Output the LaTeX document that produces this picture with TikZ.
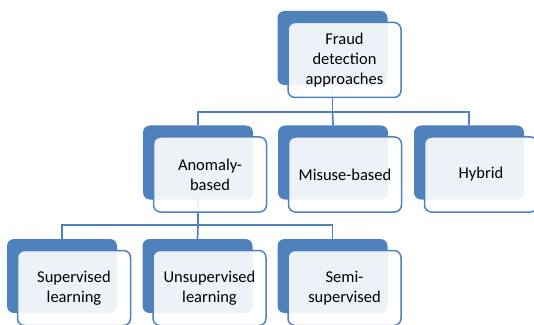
\documentclass[tikz,border=0pt]{standalone}
\usepackage{fontspec}
\setmainfont{Carlito}
\usepackage{tikz}
\usepackage{xcolor}
\usetikzlibrary{positioning}

\definecolor{officeblue}{HTML}{4F81BD}

\begin{document}
\begin{tikzpicture}[x=1pt, y=1pt]
\tikzstyle{back} = [rectangle, fill=officeblue, rounded corners=7pt, minimum width=110pt, minimum height=74pt, inner sep=0pt]
\tikzstyle{front} = [rectangle, draw=officeblue, line width=1.5pt, fill=white, fill opacity=0.9, text opacity=1, rounded corners=7pt, minimum width=113pt, minimum height=75pt, inner sep=0pt, align=center, font=\fontsize{16.5}{20}\selectfont, shift={(12pt,-12pt)}]
\tikzstyle{line} = [draw=officeblue, line width=1.7pt]

\useasboundingbox (0,0) rectangle (534,324);

% back blocks
\node [back] (fraudB) at (332.5,276) {};
\node [back] (anomB) at (198,161.5) {};
\node [back] (misuseB) at (333,161.5) {};
\node [back] (hybridB) at (469,161.5) {};
\node [back] (supB) at (62,48) {};
\node [back] (unsupB) at (197.5,48) {};
\node [back] (semiB) at (332.5,48) {};

% connectors
\coordinate (busA) at (332.5,212);
\coordinate (busB) at (198,99);
\draw [line] (fraudB.south) -- (busA);
\draw [line] (anomB.north) |- (busA) -| (hybridB.north);
\draw [line] (busA) -- (misuseB.north);
\draw [line] (anomB.south) -- (busB);
\draw [line] (supB.north) |- (busB) -| (semiB.north);
\draw [line] (busB) -- (unsupB.north);

% front boxes
\node [front] (fraud) at (fraudB) {Fraud\\detection\\approaches};
\node [front] (anom) at (anomB) {Anomaly-\\based};
\node [front] (misuse) at (misuseB) {Misuse-based};
\node [front] (hybrid) at (hybridB) {Hybrid};
\node [front] (sup) at (supB) {Supervised\\learning};
\node [front] (unsup) at (unsupB) {Unsupervised\\learning};
\node [front] (semi) at (semiB) {Semi-\\supervised};

\end{tikzpicture}
\end{document}
